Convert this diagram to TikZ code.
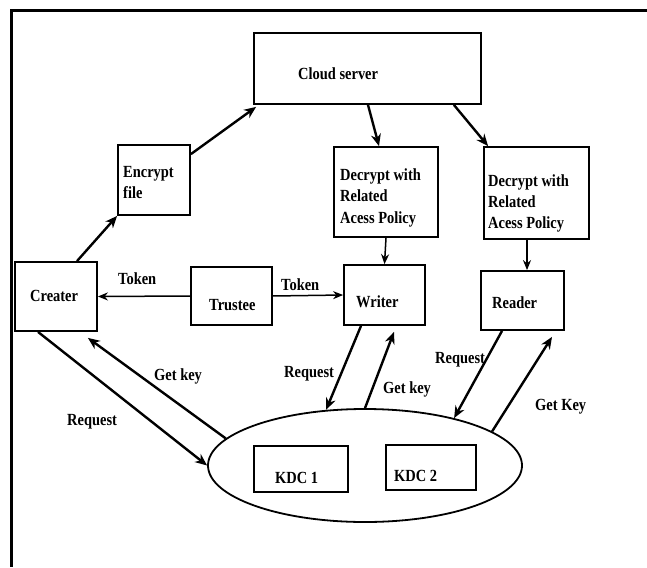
\documentclass[tikz,border=0pt]{standalone}
\usepackage{fontspec}
\setmainfont{Liberation Serif}[FakeStretch=0.85]
\usetikzlibrary{arrows.meta,calc,shapes.geometric}
\begin{document}
\begin{tikzpicture}[x=1pt,y=-1pt,
  box/.style={draw, line width=1.8pt, inner sep=0pt},
  lbl/.style={font=\bfseries\fontsize{17}{21.5}\selectfont, anchor=base west, inner sep=0pt},
  arr/.style={line width=2.4pt, -{Stealth[length=12pt,width=10pt]}},
  arrthin/.style={line width=1.5pt, -{Stealth[length=10pt,width=8pt]}}]
\useasboundingbox (0,0) rectangle (647,567);
% frame
\coordinate (fc) at (11.7,11);
\coordinate (fr) at (647,11);
\coordinate (fb) at (11.7,567);
\draw[line width=3pt] (fr) -- (fc) -- (fb);
% boxes
\node[box, minimum width=227pt, minimum height=71pt] (cloud) at (367.5,68.5) {};
\node[box, minimum width=72pt, minimum height=70pt] (encrypt) at (154,180) {};
\node[box, minimum width=104pt, minimum height=90pt] (dec1) at (386,192) {};
\node[box, minimum width=105pt, minimum height=92pt] (dec2) at (536.5,193) {};
\node[box, minimum width=82pt, minimum height=69pt] (creater) at (56,296.5) {};
\node[box, line width=1.4pt, minimum width=81pt, minimum height=58pt] (trustee) at (231.5,296) {};
\node[box, minimum width=81pt, minimum height=60pt] (writer) at (384.5,295) {};
\node[box, minimum width=83pt, minimum height=59pt] (reader) at (522.5,300.5) {};
\node[ellipse, draw, line width=1.8pt, inner sep=0pt, minimum width=314pt, minimum height=113pt] (kdc) at (365,465.5) {};
\node[box, minimum width=94pt, minimum height=46pt] (kdc1) at (301,469) {};
\node[box, minimum width=90pt, minimum height=45pt] (kdc2) at (431,467.5) {};
% texts
\node[lbl] (tcloud) at (298,80) {Cloud server};
\node[lbl] (tenc1) at (123,177) {Encrypt};
\node[lbl] (tenc2) at (123,198) {file};
\node[lbl] (td1a) at (340,180) {Decrypt with};
\node[lbl] (td1b) at (340,201.5) {Related};
\node[lbl] (td1c) at (340,223) {Acess Policy};
\node[lbl] (td2a) at (488,186) {Decrypt with};
\node[lbl] (td2b) at (488,207) {Related};
\node[lbl] (td2c) at (488,228) {Acess Policy};
\node[lbl] (tcreater) at (30,301) {Creater};
\node[lbl] (ttrustee) at (209,310) {Trustee};
\node[lbl] (twriter) at (356,307) {Writer};
\node[lbl] (treader) at (492,308) {Reader};
\node[lbl] (tkdc1) at (275,483) {KDC 1};
\node[lbl] (tkdc2) at (394,481) {KDC 2};
\node[lbl] (ltok1) at (118,284) {Token};
\node[lbl] (ltok2) at (281,290) {Token};
\node[lbl] (lgk1) at (154,380) {Get key};
\node[lbl] (lrq1) at (67,425) {Request};
\node[lbl] (lrq2) at (284,377) {Request};
\node[lbl] (lgk2) at (383,393) {Get key};
\node[lbl] (lrq3) at (435,363) {Request};
\node[lbl] (lgk3) at (535,410) {Get Key};
% arrows
\draw[arr] ([xshift=21pt]creater.north) -- (encrypt.south west);
\draw[arr] ($(encrypt.north east)+(0,10)$) -- ($(cloud.south west)+(3,2)$);
\draw[arr] ($(cloud.south)+(0.5,0)$) -- ($(dec1.north)+(-7,0)$);
\draw[arr] ($(cloud.south east)+(-28,0)$) -- ($(dec2.north west)+(5,0)$);
\draw[arrthin] (dec1.south) -- (writer.north);
\draw[arrthin] ($(dec2.south)+(-9.5,0)$) -- ($(reader.north)+(4.5,0)$);
\draw[arrthin] (trustee.west) -- (creater.east);
\draw[arrthin] (trustee.east) -- (writer.west);
\draw[arr] ($(creater.south)+(-18,0)$) -- (kdc.west);
\draw[arr] (kdc.169.7) -- ($(creater.south east)+(-10,6)$);
\draw[arr] ($(writer.south)+(-23.5,0)$) -- (kdc.125.5);
\draw[arr] (kdc.north) -- ($(writer.south)+(9.5,6)$);
\draw[arr] ($(reader.south)+(-20.5,0)$) -- (kdc.28);
\draw[arr] (kdc.15) -- ($(reader.south)+(29.5,6)$);
\end{tikzpicture}
\end{document}
